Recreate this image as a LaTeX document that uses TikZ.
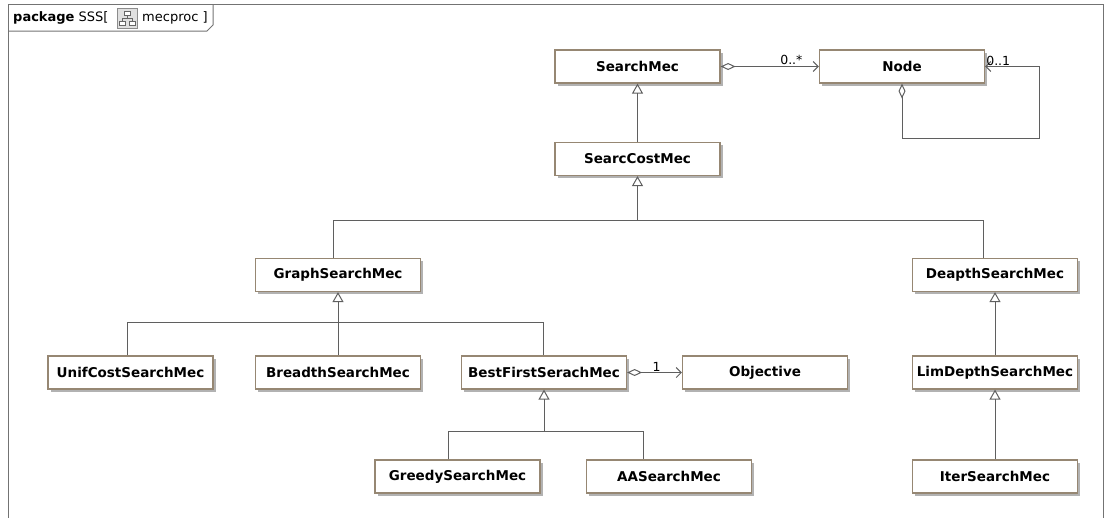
\documentclass[tikz,border=0pt]{standalone}
\usepackage{fontspec}
\setmainfont{DejaVu Sans}
\usetikzlibrary{calc, arrows.meta, shadows}

\definecolor{boxedge}{RGB}{150,135,115}
\definecolor{linegray}{RGB}{95,95,95}
\definecolor{framegray}{RGB}{115,115,115}

\tikzset{
    cls/.style = {draw = boxedge, line width = 1.2pt, fill = white,
        minimum width = 165pt, minimum height = 33pt, inner sep = 0pt,
        font = \fontsize{13.5}{16}\selectfont\bfseries,
        drop shadow = {shadow xshift = 2.5pt, shadow yshift = -2.5pt,
            fill = black!30, opacity = 1}},
    wire/.style = {draw = linegray, line width = 1pt},
    gen/.style = {wire, -{Triangle[open, length = 10pt, width = 11pt]}},
    agg/.style = {wire, {Diamond[open, length = 15pt, width = 7pt]}-{Straight Barb[length = 5pt, width = 10pt]}},
    mult/.style = {font = \fontsize{12.5}{14}\selectfont, inner sep = 1pt}
}

\begin{document}
\begin{tikzpicture}[x = 1pt, y = -1pt]

        \useasboundingbox (0, 0) rectangle (1108, 517);

        % Frame of the package and its name tab.
        \draw [framegray, line width = 1pt] (8, 520) to (8, 4) to (1103, 4) to (1103, 520);
        \draw [framegray, line width = 1pt] (8, 31) to (207, 31) to (213, 25) to (213, 4);
        \node (pkgname) at (13, 18) [anchor = west, inner sep = 0pt, font = \fontsize{13}{15}\selectfont] {\textbf{package} SSS[};
        \node (pkgkind) at (142, 18) [anchor = west, inner sep = 0pt, font = \fontsize{13}{15}\selectfont] {mecproc ]};

        % Little diagram icon in the tab.
        \draw [fill = black!12, draw = black!45] (117, 8) rectangle (137, 28);
        \draw [draw = black!60, fill = white] (124, 11) rectangle (130, 15);
        \draw [draw = black!60, fill = white] (119, 21) rectangle (125, 25);
        \draw [draw = black!60, fill = white] (129, 21) rectangle (135, 25);
        \draw [draw = black!60] (127, 15) to (127, 18) (122, 18) to (132, 18);
        \draw [draw = black!60] (122, 18) to (122, 21) (132, 18) to (132, 21);

        % Classes, top row first.
        \node (searchmec) at (637.5, 66.5) [cls] {SearchMec};
        \node (node) at (902, 66.5) [cls] {Node};
        \node (searccost) at (637.5, 159) [cls] {SearcCostMec};
        \node (graph) at (338, 275) [cls] {GraphSearchMec};
        \node (deapth) at (995, 275) [cls] {DeapthSearchMec};
        \node (unif) at (130.5, 372.5) [cls] {UnifCostSearchMec};
        \node (breadth) at (338, 372.5) [cls] {BreadthSearchMec};
        \node (bestfirst) at (544, 372.5) [cls] {BestFirstSerachMec};
        \node (objective) at (765, 372.5) [cls] {Objective};
        \node (limdepth) at (995, 372.5) [cls] {LimDepthSearchMec};
        \node (greedy) at (457.5, 476.5) [cls] {GreedySearchMec};
        \node (aasearch) at (669, 476.5) [cls] {AASearchMec};
        \node (iter) at (995, 476.5) [cls] {IterSearchMec};

        % Bends of the generalisation trees.
        \coordinate (leftA) at (333, 220);
        \coordinate (rightA) at (983, 220);
        \coordinate (leftB) at (127, 322);
        \coordinate (rightB) at (543, 322);
        \coordinate (leftC) at (448, 431);
        \coordinate (rightC) at (643, 431);
        \coordinate (loopB) at (1039, 138);

        % SearcCostMec is a SearchMec.
        \draw [gen] (searccost.north) to (searchmec.south);

        % Graph and depth searches under SearcCostMec.
        \draw [wire] (graph.north -| leftA) to (leftA) to (rightA) to (deapth.north -| rightA);
        \draw [gen] (searccost.south |- leftA) to (searccost.south);

        % Searches under GraphSearchMec.
        \draw [wire] (unif.north -| leftB) to (leftB) to (rightB) to (bestfirst.north -| rightB);
        \draw [wire] (breadth.north) to (breadth.north |- leftB);
        \draw [gen] (graph.south |- leftB) to (graph.south);

        % Searches under BestFirstSerachMec.
        \draw [wire] (greedy.north -| leftC) to (leftC) to (rightC) to (aasearch.north -| rightC);
        \draw [gen] (bestfirst.south |- leftC) to (bestfirst.south);

        % Depth chain.
        \draw [gen] (limdepth.north) to (deapth.south);
        \draw [gen] (iter.north) to (limdepth.south);

        % Aggregations.
        \draw [agg] (searchmec.east) to node [mult, pos = 0.72, above] {0..*} (node.west);
        \draw [agg] (node.south) to (node.south |- loopB) to (loopB) to (loopB |- node.east) to (node.east);
        \node (selfmult) at (node.east) [mult, anchor = south west] {0..1};
        \draw [agg] (bestfirst.east) to node [mult, pos = 0.54, above] {1} (objective.west);
    \end{tikzpicture}
\end{document}
